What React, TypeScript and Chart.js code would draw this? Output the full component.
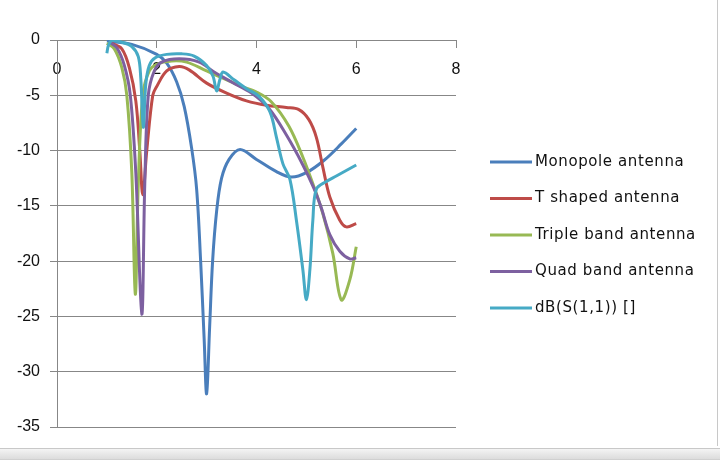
import React, { useEffect, useRef } from "react";
import { Chart, registerables } from "chart.js";

Chart.register(...registerables);

// ---- data ----
const seriesNames = [
  "Monopole antenna",
  "T shaped antenna",
  "Triple band antenna",
  "Quad band antenna",
  "dB(S(1,1)) []",
];
const seriesColors = ["#4A7EBB", "#BE4B48", "#98B954", "#7D60A0", "#46AAC5"];

const monopoleX = [1.0, 1.5, 2.0, 2.2, 2.4, 2.55, 2.7, 2.8, 2.88, 2.95, 3.0, 3.06, 3.12, 3.2, 3.3, 3.45, 3.67, 4.0, 4.4, 4.7, 5.0, 5.35, 5.7, 6.0];
const monopoleY = [-0.1, -0.4, -1.3, -2.1, -3.8, -6.0, -9.8, -13.5, -20, -27, -32, -26, -20, -15.5, -12.5, -10.8, -9.9, -10.8, -11.9, -12.4, -12.0, -10.9, -9.4, -8.0];

const tShapedX = [1.1, 1.3, 1.45, 1.58, 1.66, 1.72, 1.8, 1.92, 2.0, 2.2, 2.45, 2.65, 3.0, 3.4, 3.8, 4.2, 4.6, 4.85, 5.05, 5.2, 5.33, 5.47, 5.67, 5.8, 6.0];
const tShapedY = [-0.3, -0.8, -2.5, -5.5, -10, -14, -10, -5, -4.2, -2.8, -2.4, -2.7, -3.9, -4.8, -5.5, -5.9, -6.1, -6.3, -7.2, -8.8, -11.5, -14.2, -16.3, -16.9, -16.6];

const tripleX = [1.0, 1.15, 1.3, 1.4, 1.5, 1.57, 1.63, 1.72, 1.85, 2.0, 2.3, 2.6, 3.0, 3.3, 3.7, 4.0, 4.3, 4.65, 4.93, 5.13, 5.33, 5.53, 5.7, 5.87, 6.0];
const tripleY = [-0.3, -0.8, -2.5, -5, -12, -23, -13, -5, -2.8, -2.2, -1.9, -2.0, -2.8, -3.4, -4.2, -4.7, -5.6, -7.8, -10.6, -13, -15.7, -19.3, -23.5, -21.7, -18.7];

const quadX = [1.05, 1.2, 1.35, 1.47, 1.58, 1.7, 1.76, 1.83, 1.95, 2.1, 2.45, 2.85, 3.15, 3.5, 3.9, 4.25, 4.6, 4.93, 5.15, 5.3, 5.47, 5.67, 5.87, 6.0];
const quadY = [-0.2, -0.7, -2.3, -5, -12, -24.8, -13, -5, -2.8, -2.0, -1.7, -2.0, -2.9, -3.8, -4.8, -6.2, -8.6, -11.3, -13.4, -15.2, -17.6, -19.1, -19.8, -19.7];

const s11X = [1.0, 1.03, 1.1, 1.3, 1.5, 1.63, 1.68, 1.73, 1.78, 1.85, 1.97, 2.2, 2.5, 2.75, 3.0, 3.13, 3.2, 3.27, 3.33, 3.55, 3.8, 4.05, 4.27, 4.4, 4.53, 4.67, 4.8, 4.93, 5.0, 5.07, 5.13, 5.2, 5.4, 5.6, 6.0];
const s11Y = [-1.2, -0.5, -0.05, -0.2, -0.6, -1.5, -3.5, -7.9, -4, -2.3, -1.6, -1.3, -1.25, -1.45, -2.3, -3.3, -4.6, -3.5, -2.9, -3.6, -4.4, -5.1, -6.5, -8.8, -11.2, -12.6, -16.3, -20.8, -23.5, -20.8, -16.3, -13.5, -12.8, -12.3, -11.3];

const xTickValues = [0, 2, 4, 6, 8];
const yTickValues = [0, -5, -10, -15, -20, -25, -30, -35];

const seriesX = [monopoleX, tShapedX, tripleX, quadX, s11X];
const seriesY = [monopoleY, tShapedY, tripleY, quadY, s11Y];

const GRID = "#878787";

const legendPlugin = {
  id: "sideLegend",
  afterDraw(chart: any) {
    const ctx = chart.ctx;
    ctx.save();
    ctx.font = '15px "DejaVu Sans"';
    try { (ctx as any).letterSpacing = "0.6px"; } catch (e) {}
    ctx.textBaseline = "middle";
    ctx.textAlign = "left";
    chart.data.datasets.forEach((ds: any, i: number) => {
      const y = 162 + i * 36.5;
      ctx.strokeStyle = ds.borderColor;
      ctx.lineWidth = 3;
      ctx.beginPath();
      ctx.moveTo(490, y);
      ctx.lineTo(532, y);
      ctx.stroke();
      ctx.fillStyle = "#111";
      ctx.fillText(ds.label, 535, y);
    });
    ctx.restore();
  },
};

export default function App() {
  const ref = useRef<HTMLCanvasElement | null>(null);

  useEffect(() => {
    document.body.style.margin = "0";
    const canvas = ref.current;
    if (!canvas) return;
    const datasets = seriesNames.map((name, i) => ({
      label: name,
      data: seriesX[i].map((x, j) => ({ x, y: seriesY[i][j] })),
      borderColor: seriesColors[i],
      backgroundColor: seriesColors[i],
      borderWidth: 3,
      pointRadius: 0,
      fill: false,
      tension: 0.35,
      order: seriesNames.length - i,
    }));
    const chart = new Chart(canvas, {
      type: "line",
      data: { datasets },
      plugins: [legendPlugin],
      options: {
        animation: false,
        responsive: false,
        maintainAspectRatio: false,
        layout: { padding: { left: 0, top: 40, right: 264, bottom: 41 } },
        plugins: { legend: { display: false }, tooltip: { enabled: false } },
        scales: {
          x: {
            type: "linear",
            position: { y: 0 } as any,
            min: 0,
            max: 8,
            afterBuildTicks: (scale: any) => {
              scale.ticks = xTickValues.map((v) => ({ value: v }));
            },
            grid: { drawOnChartArea: false, drawTicks: true, tickLength: 7, color: GRID, lineWidth: 1 },
            border: { display: true, color: GRID, width: 1 },
            ticks: { color: "#111", font: { family: "Liberation Sans", size: 16 }, padding: 13, maxRotation: 0 },
          },
          y: {
            type: "linear",
            position: "left",
            min: -35,
            max: 0,
            afterBuildTicks: (scale: any) => {
              scale.ticks = yTickValues.map((v) => ({ value: v }));
            },
            afterFit: (scale: any) => {
              scale.width = 57;
            },
            grid: { drawOnChartArea: true, drawTicks: true, tickLength: 7, color: GRID, lineWidth: 1 },
            border: { display: true, color: GRID, width: 1 },
            ticks: { color: "#111", font: { family: "Liberation Sans", size: 16 }, padding: 10 },
          },
        },
      },
    });
    return () => chart.destroy();
  }, []);

  return (
    <div style={{ position: "relative", width: 720, height: 468, background: "#fff", overflow: "hidden" }}>
      <canvas ref={ref} width={720} height={468} style={{ position: "absolute", left: 0, top: 0, width: 720, height: 468 }} />
      <div style={{ position: "absolute", left: 717, top: 0, width: 1, height: 446, background: "#c8c8c8" }} />
      <div style={{ position: "absolute", left: 0, top: 448, width: 720, height: 10, background: "linear-gradient(#f4f4f4,#dcdcdc)", borderTop: "1px solid #c8c8c8", borderBottom: "1px solid #d0d0d0" }} />
    </div>
  );
}
